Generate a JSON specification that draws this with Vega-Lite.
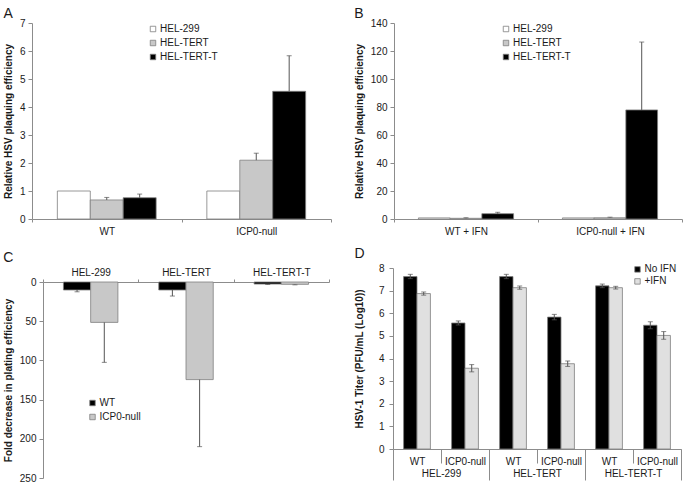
{
  "$schema": "https://vega.github.io/schema/vega-lite/v6.json",
  "background": "white",
  "padding": {"left": 3, "top": 7, "right": 0, "bottom": 0},
  "config": {
    "view": {"stroke": null},
    "font": "Liberation Sans",
    "axis": {"labelFont": "Liberation Sans", "labelFontSize": 10, "labelColor": "#1a1a1a", "titleFont": "Liberation Sans", "titleFontSize": 10, "titleFontWeight": "bold", "titleColor": "#1a1a1a", "domainColor": "#8c8c8c", "tickColor": "#8c8c8c", "grid": false, "tickSize": 4, "labelPadding": 3, "titlePadding": 6},
    "legend": {"labelFont": "Liberation Sans", "labelFontSize": 10, "labelColor": "#1a1a1a", "symbolType": "square", "symbolSize": 30, "symbolStrokeColor": "#7f7f7f", "symbolStrokeWidth": 0.8, "rowPadding": 4, "labelOffset": 2, "padding": 0, "orient": "none"},
    "title": {"fontSize": 14, "fontWeight": "normal", "anchor": "start", "font": "Liberation Sans", "color": "#1a1a1a", "offset": 2}
  },
  "datasets": {
    "panelA": [
      {"cond": "WT", "line": "HEL-299", "value": 1.0, "upper": null},
      {"cond": "WT", "line": "HEL-TERT", "value": 0.68, "upper": 0.77},
      {"cond": "WT", "line": "HEL-TERT-T", "value": 0.76, "upper": 0.89},
      {"cond": "ICP0-null", "line": "HEL-299", "value": 1.0, "upper": null},
      {"cond": "ICP0-null", "line": "HEL-TERT", "value": 2.1, "upper": 2.35},
      {"cond": "ICP0-null", "line": "HEL-TERT-T", "value": 4.56, "upper": 5.83}
    ],
    "panelB": [
      {"cond": "WT + IFN", "line": "HEL-299", "value": 0.8, "upper": null},
      {"cond": "WT + IFN", "line": "HEL-TERT", "value": 0.5, "upper": 0.9},
      {"cond": "WT + IFN", "line": "HEL-TERT-T", "value": 3.8, "upper": 4.8},
      {"cond": "ICP0-null + IFN", "line": "HEL-299", "value": 0.8, "upper": null},
      {"cond": "ICP0-null + IFN", "line": "HEL-TERT", "value": 0.9, "upper": 1.3},
      {"cond": "ICP0-null + IFN", "line": "HEL-TERT-T", "value": 77.9, "upper": 126.4}
    ],
    "panelC": [
      {"cell": "HEL-299", "virus": "WT", "value": 10.2, "upper": 12.5},
      {"cell": "HEL-299", "virus": "ICP0-null", "value": 51.5, "upper": 102.5},
      {"cell": "HEL-TERT", "virus": "WT", "value": 10.2, "upper": 17.9},
      {"cell": "HEL-TERT", "virus": "ICP0-null", "value": 124.5, "upper": 210},
      {"cell": "HEL-TERT-T", "virus": "WT", "value": 2.6, "upper": 3.2},
      {"cell": "HEL-TERT-T", "virus": "ICP0-null", "value": 3.0, "upper": 3.6}
    ],
    "panelD": [
      {"key": "HEL-299|WT", "cell": "HEL-299", "virus": "WT", "ifn": "No IFN", "value": 7.62, "lo": 7.53, "hi": 7.72},
      {"key": "HEL-299|WT", "cell": "HEL-299", "virus": "WT", "ifn": "+IFN", "value": 6.87, "lo": 6.8, "hi": 6.94},
      {"key": "HEL-299|ICP0-null", "cell": "HEL-299", "virus": "ICP0-null", "ifn": "No IFN", "value": 5.57, "lo": 5.48, "hi": 5.66},
      {"key": "HEL-299|ICP0-null", "cell": "HEL-299", "virus": "ICP0-null", "ifn": "+IFN", "value": 3.57, "lo": 3.41, "hi": 3.73},
      {"key": "HEL-TERT|WT", "cell": "HEL-TERT", "virus": "WT", "ifn": "No IFN", "value": 7.62, "lo": 7.53, "hi": 7.72},
      {"key": "HEL-TERT|WT", "cell": "HEL-TERT", "virus": "WT", "ifn": "+IFN", "value": 7.13, "lo": 7.06, "hi": 7.2},
      {"key": "HEL-TERT|ICP0-null", "cell": "HEL-TERT", "virus": "ICP0-null", "ifn": "No IFN", "value": 5.83, "lo": 5.71, "hi": 5.95},
      {"key": "HEL-TERT|ICP0-null", "cell": "HEL-TERT", "virus": "ICP0-null", "ifn": "+IFN", "value": 3.77, "lo": 3.65, "hi": 3.89},
      {"key": "HEL-TERT-T|WT", "cell": "HEL-TERT-T", "virus": "WT", "ifn": "No IFN", "value": 7.21, "lo": 7.13, "hi": 7.29},
      {"key": "HEL-TERT-T|WT", "cell": "HEL-TERT-T", "virus": "WT", "ifn": "+IFN", "value": 7.13, "lo": 7.07, "hi": 7.19},
      {"key": "HEL-TERT-T|ICP0-null", "cell": "HEL-TERT-T", "virus": "ICP0-null", "ifn": "No IFN", "value": 5.47, "lo": 5.32, "hi": 5.62},
      {"key": "HEL-TERT-T|ICP0-null", "cell": "HEL-TERT-T", "virus": "ICP0-null", "ifn": "+IFN", "value": 5.02, "lo": 4.85, "hi": 5.19}
    ]
  },
  "resolve": {"scale": {"color": "independent", "xOffset": "independent"}, "legend": {"color": "independent"}},
  "spacing": 11,
  "vconcat": [
    {
      "spacing": 22,
      "resolve": {"scale": {"color": "independent", "xOffset": "independent"}, "legend": {"color": "independent"}},
      "hconcat": [
        {
          "title": {"text": "A", "offset": -3},
          "width": 299, "height": 196,
          "data": {"name": "panelA"},
          "encoding": {
            "x": {"field": "cond", "type": "nominal", "sort": null, "scale": {"paddingInner": 0, "paddingOuter": 0}, "axis": {"title": null, "tickBand": "extent", "labelAngle": 0, "tickSize": 3, "labelPadding": 4}},
            "xOffset": {"field": "line", "type": "nominal", "sort": ["HEL-299", "HEL-TERT", "HEL-TERT-T"], "scale": {"paddingInner": 0, "paddingOuter": 0.77}}
          },
          "layer": [
            {"mark": {"type": "bar", "stroke": "#7f7f7f", "strokeWidth": 0.8},
             "encoding": {
               "y": {"field": "value", "type": "quantitative", "title": "Relative HSV plaquing efficiency", "scale": {"domain": [0, 7], "nice": false}, "axis": {"values": [0, 1, 2, 3, 4, 5, 6, 7], "tickCount": 8}},
               "color": {"field": "line", "type": "nominal", "sort": ["HEL-299", "HEL-TERT", "HEL-TERT-T"], "scale": {"domain": ["HEL-299", "HEL-TERT", "HEL-TERT-T"], "range": ["#ffffff", "#c8c8c8", "#000000"]}, "legend": {"title": null, "orient": "none", "legendX": 116, "legendY": 1}}
             }},
            {"transform": [{"filter": "isValid(datum.upper)"}],
             "mark": {"type": "rule", "color": "#555555", "strokeWidth": 1},
             "encoding": {"y": {"field": "value", "type": "quantitative", "title": "Relative HSV plaquing efficiency", "axis": {"values": [0, 1, 2, 3, 4, 5, 6, 7], "tickCount": 8}}, "y2": {"field": "upper"}}},
            {"transform": [{"filter": "isValid(datum.upper)"}],
             "mark": {"type": "tick", "color": "#555555", "thickness": 1, "size": 5, "orient": "horizontal"},
             "encoding": {"y": {"field": "upper", "type": "quantitative", "title": "Relative HSV plaquing efficiency", "axis": {"values": [0, 1, 2, 3, 4, 5, 6, 7], "tickCount": 8}}}}
          ]
        },
        {
          "title": {"text": "B", "offset": -3},
          "width": 288, "height": 196,
          "data": {"name": "panelB"},
          "encoding": {
            "x": {"field": "cond", "type": "nominal", "sort": null, "scale": {"paddingInner": 0, "paddingOuter": 0}, "axis": {"title": null, "tickBand": "extent", "labelAngle": 0, "tickSize": 3, "labelPadding": 4}},
            "xOffset": {"field": "line", "type": "nominal", "sort": ["HEL-299", "HEL-TERT", "HEL-TERT-T"], "scale": {"paddingInner": 0, "paddingOuter": 0.77}}
          },
          "layer": [
            {"mark": {"type": "bar", "stroke": "#7f7f7f", "strokeWidth": 0.8},
             "encoding": {
               "y": {"field": "value", "type": "quantitative", "title": "Relative HSV plaquing efficiency", "scale": {"domain": [0, 140], "nice": false}, "axis": {"values": [0, 20, 40, 60, 80, 100, 120, 140], "tickCount": 8}},
               "color": {"field": "line", "type": "nominal", "sort": ["HEL-299", "HEL-TERT", "HEL-TERT-T"], "scale": {"domain": ["HEL-299", "HEL-TERT", "HEL-TERT-T"], "range": ["#ffffff", "#c8c8c8", "#000000"]}, "legend": {"title": null, "orient": "none", "legendX": 107, "legendY": 1}}
             }},
            {"transform": [{"filter": "isValid(datum.upper)"}],
             "mark": {"type": "rule", "color": "#555555", "strokeWidth": 1},
             "encoding": {"y": {"field": "value", "type": "quantitative", "title": "Relative HSV plaquing efficiency", "axis": {"values": [0, 20, 40, 60, 80, 100, 120, 140], "tickCount": 8}}, "y2": {"field": "upper"}}},
            {"transform": [{"filter": "isValid(datum.upper)"}],
             "mark": {"type": "tick", "color": "#555555", "thickness": 1, "size": 5, "orient": "horizontal"},
             "encoding": {"y": {"field": "upper", "type": "quantitative", "title": "Relative HSV plaquing efficiency", "axis": {"values": [0, 20, 40, 60, 80, 100, 120, 140], "tickCount": 8}}}}
          ]
        }
      ]
    },
    {
      "spacing": 24,
      "resolve": {"scale": {"color": "independent", "xOffset": "independent"}, "legend": {"color": "independent"}},
      "hconcat": [
        {
          "title": {"text": "C"},
          "width": 297, "height": 210,
          "data": {"name": "panelC"},
          "encoding": {
            "x": {"field": "cell", "type": "nominal", "sort": null, "scale": {"paddingInner": 0, "paddingOuter": 0, "range": [11, 297]}, "axis": {"title": null, "orient": "top", "offset": -14, "tickBand": "extent", "labelAngle": 0, "tickSize": 3, "labelPadding": 2}},
            "xOffset": {"field": "virus", "type": "nominal", "sort": ["WT", "ICP0-null"], "scale": {"paddingInner": 0, "paddingOuter": 0.75}}
          },
          "layer": [
            {"mark": {"type": "bar", "stroke": "#7f7f7f", "strokeWidth": 0.8},
             "encoding": {
               "y": {"field": "value", "type": "quantitative", "title": "Fold decrease in plating efficiency", "scale": {"domain": [0, 250], "nice": false, "range": [14, 210]}, "axis": {"values": [0, 50, 100, 150, 200, 250], "tickCount": 6, "offset": -11}},
               "color": {"field": "virus", "type": "nominal", "sort": ["WT", "ICP0-null"], "scale": {"domain": ["WT", "ICP0-null"], "range": ["#000000", "#c8c8c8"]}, "legend": {"title": null, "orient": "none", "legendX": 55.5, "legendY": 130}}
             }},
            {"mark": {"type": "rule", "color": "#555555", "strokeWidth": 1},
             "encoding": {"y": {"field": "value", "type": "quantitative", "title": "Fold decrease in plating efficiency", "axis": {"values": [0, 50, 100, 150, 200, 250], "tickCount": 6, "offset": -11}}, "y2": {"field": "upper"}}},
            {"mark": {"type": "tick", "color": "#555555", "thickness": 1, "size": 5, "orient": "horizontal"},
             "encoding": {"y": {"field": "upper", "type": "quantitative", "title": "Fold decrease in plating efficiency", "axis": {"values": [0, 50, 100, 150, 200, 250], "tickCount": 6, "offset": -11}}}}
          ]
        },
        {
          "title": {"text": "D"},
          "width": 288, "height": 181,
          "data": {"name": "panelD"},
          "resolve": {"scale": {"x": "independent"}, "axis": {"x": "independent"}},
          "layer": [
            {
              "encoding": {
                "x": {"field": "key", "type": "nominal", "sort": null, "scale": {"paddingInner": 0, "paddingOuter": 0}, "axis": {"title": null, "orient": "bottom", "tickBand": "extent", "labelAngle": 0, "tickSize": 14, "labelPadding": -7, "labelExpr": "split(datum.value, '|')[1]"}},
                "xOffset": {"field": "ifn", "type": "nominal", "sort": ["No IFN", "+IFN"], "scale": {"paddingInner": 0, "paddingOuter": 0.79}}
              },
              "layer": [
                {"mark": {"type": "bar", "stroke": "#7f7f7f", "strokeWidth": 0.8},
                 "encoding": {
                   "y": {"field": "value", "type": "quantitative", "title": "HSV-1 Titer (PFU/mL (Log10))", "scale": {"domain": [0, 8], "nice": false}, "axis": {"values": [0, 1, 2, 3, 4, 5, 6, 7, 8], "tickCount": 9, "titlePadding": 14, "labelPadding": 5}},
                   "color": {"field": "ifn", "type": "nominal", "sort": ["No IFN", "+IFN"], "scale": {"domain": ["No IFN", "+IFN"], "range": ["#000000", "#e0e0e0"]}, "legend": {"title": null, "orient": "none", "legendX": 239.5, "legendY": -3.6, "rowPadding": 2}}
                 }},
                {"mark": {"type": "rule", "color": "#555555", "strokeWidth": 1},
                 "encoding": {"y": {"field": "lo", "type": "quantitative", "title": "HSV-1 Titer (PFU/mL (Log10))", "axis": {"values": [0, 1, 2, 3, 4, 5, 6, 7, 8], "tickCount": 9, "titlePadding": 14, "labelPadding": 5}}, "y2": {"field": "hi"}}},
                {"mark": {"type": "tick", "color": "#555555", "thickness": 1, "size": 5, "orient": "horizontal"},
                 "encoding": {"y": {"field": "hi", "type": "quantitative", "title": "HSV-1 Titer (PFU/mL (Log10))", "axis": {"values": [0, 1, 2, 3, 4, 5, 6, 7, 8], "tickCount": 9, "titlePadding": 14, "labelPadding": 5}}}},
                {"mark": {"type": "tick", "color": "#555555", "thickness": 1, "size": 5, "orient": "horizontal"},
                 "encoding": {"y": {"field": "lo", "type": "quantitative", "title": "HSV-1 Titer (PFU/mL (Log10))", "axis": {"values": [0, 1, 2, 3, 4, 5, 6, 7, 8], "tickCount": 9, "titlePadding": 14, "labelPadding": 5}}}}
              ]
            },
            {
              "mark": {"type": "point", "opacity": 0},
              "encoding": {
                "x": {"field": "cell", "type": "nominal", "sort": null, "scale": {"paddingInner": 0, "paddingOuter": 0}, "axis": {"title": null, "orient": "bottom", "domain": false, "tickBand": "extent", "labelAngle": 0, "tickSize": 31, "labelPadding": -12}}
              }
            }
          ]
        }
      ]
    }
  ]
}
